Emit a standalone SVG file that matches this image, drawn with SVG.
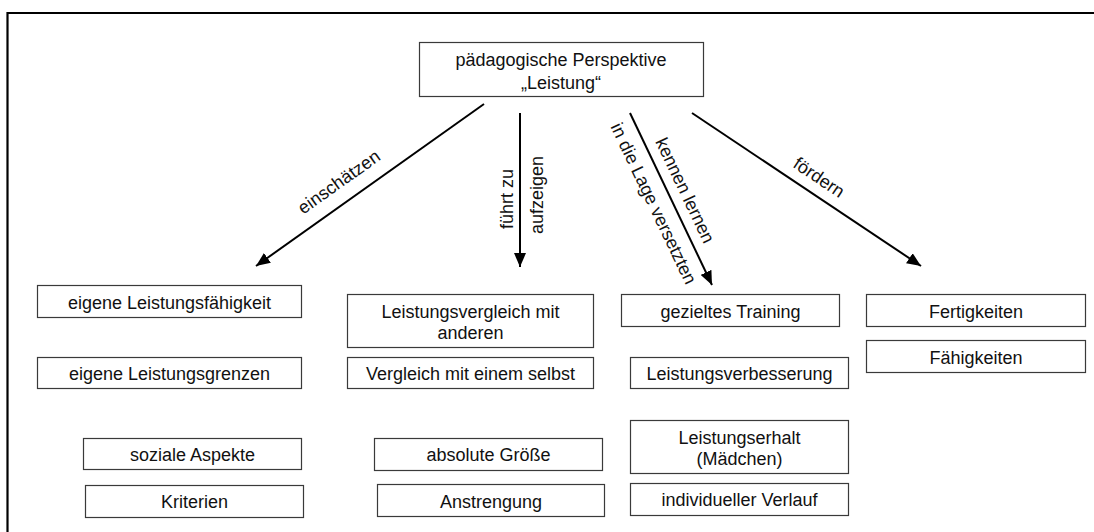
<svg xmlns="http://www.w3.org/2000/svg" width="1094" height="532" viewBox="0 0 1094 532">
<defs>
<style>
.box{fill:#fff;stroke:#3a3a3a;stroke-width:1.2}
.t{font-family:"Liberation Sans",Arial,sans-serif;font-size:18px;fill:#111;text-anchor:middle}
.c{stroke:#000;stroke-width:2;fill:none;marker-end:url(#ah)}
</style>
<marker id="ah" markerUnits="userSpaceOnUse" markerWidth="16" markerHeight="12" refX="14" refY="6" orient="auto">
<path d="M0,0 L14,6 L0,12 Z" fill="#000"/>
</marker>
</defs>
<rect width="1094" height="532" fill="#fff"/>
<path d="M7.5,532 V13 H1094" fill="none" stroke="#000" stroke-width="2.2"/>

<g id="connectors">
<line class="c" x1="484" y1="104" x2="256" y2="266"/>
<line class="c" x1="520" y1="113" x2="520" y2="267"/>
<line class="c" x1="630" y1="113" x2="712" y2="285"/>
<line class="c" x1="692" y1="113" x2="921" y2="266"/>
<text class="t" transform="translate(339,182) rotate(-35.4)" y="6">einschätzen</text>
<text class="t" transform="translate(506.5,199) rotate(-90)" y="6">führt zu</text>
<text class="t" transform="translate(536.5,195) rotate(-90)" y="6">aufzeigen</text>
<text class="t" transform="translate(685,190.5) rotate(64.5)" y="6">kennen lernen</text>
<text class="t" transform="translate(653.5,203.5) rotate(64.5)" y="6">in die Lage versetzten</text>
<text class="t" transform="translate(819,177.5) rotate(33.8)" y="6">fördern</text>
</g>

<g id="top"><rect class="box" x="419.5" y="42.5" width="284" height="54"/>
<text class="t" x="561" y="66">pädagogische Perspektive</text>
<text class="t" x="561" y="88.5">„Leistung“</text></g>

<g id="n-faehigkeit"><rect class="box" x="37.5" y="285.5" width="264" height="32"/><text class="t" x="169.5" y="308.5">eigene Leistungsfähigkeit</text></g>
<g id="n-grenzen"><rect class="box" x="37.5" y="357.5" width="264" height="31"/><text class="t" x="169.5" y="380">eigene Leistungsgrenzen</text></g>
<g id="n-sozial"><rect class="box" x="83.5" y="438.5" width="218" height="31"/><text class="t" x="192.5" y="461">soziale Aspekte</text></g>
<g id="n-kriterien"><rect class="box" x="85.5" y="485.5" width="218" height="32"/><text class="t" x="194.5" y="508">Kriterien</text></g>

<g id="n-vergleich-andere"><rect class="box" x="347.5" y="294.5" width="246" height="53"/>
<text class="t" x="470.5" y="318">Leistungsvergleich mit</text><text class="t" x="470.5" y="338.5">anderen</text></g>
<g id="n-vergleich-selbst"><rect class="box" x="347.5" y="357.5" width="246" height="31"/><text class="t" x="470.5" y="380">Vergleich mit einem selbst</text></g>
<g id="n-absolut"><rect class="box" x="374.5" y="438.5" width="228" height="32"/><text class="t" x="488.5" y="461">absolute Größe</text></g>
<g id="n-anstrengung"><rect class="box" x="377.5" y="484.5" width="227" height="32"/><text class="t" x="491" y="507.5">Anstrengung</text></g>

<g id="n-training"><rect class="box" x="621.5" y="294.5" width="218" height="32"/><text class="t" x="730.5" y="317.5">gezieltes Training</text></g>
<g id="n-verbesserung"><rect class="box" x="630.5" y="357.5" width="218" height="31"/><text class="t" x="739.5" y="380">Leistungsverbesserung</text></g>
<g id="n-erhalt"><rect class="box" x="630.5" y="420.5" width="218" height="53"/>
<text class="t" x="739.5" y="443.5">Leistungserhalt</text><text class="t" x="739.5" y="465">(Mädchen)</text></g>
<g id="n-verlauf"><rect class="box" x="630.5" y="483.5" width="218" height="32"/><text class="t" x="739.5" y="506">individueller Verlauf</text></g>

<g id="n-fertigkeiten"><rect class="box" x="866.5" y="294.5" width="219" height="32"/><text class="t" x="976" y="317.5">Fertigkeiten</text></g>
<g id="n-faehigkeiten"><rect class="box" x="866.5" y="340.5" width="219" height="32"/><text class="t" x="976" y="363.5">Fähigkeiten</text></g>
</svg>
